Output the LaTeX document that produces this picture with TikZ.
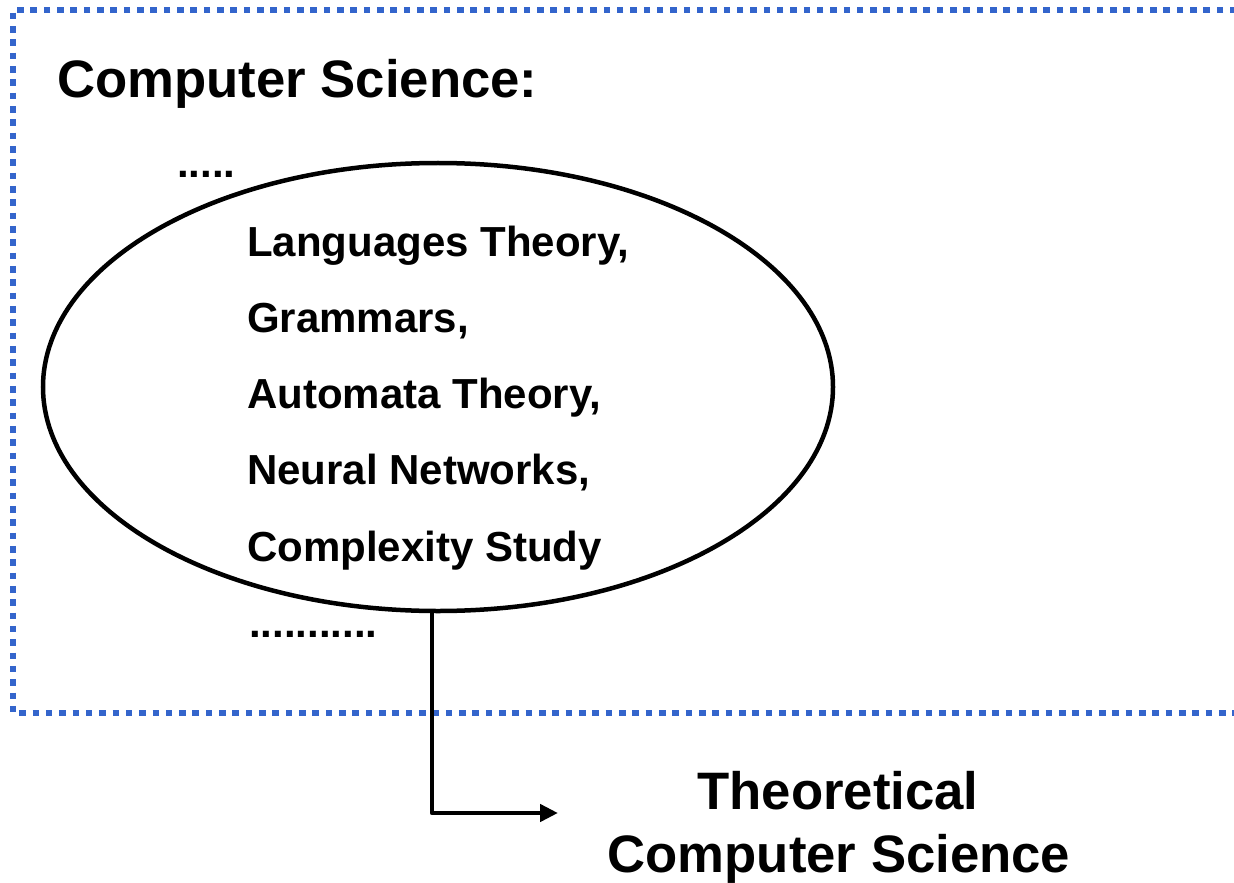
\documentclass[tikz,border=0pt]{standalone}
\usepackage{fontspec}
\setmainfont{Liberation Sans}
\usetikzlibrary{shapes.geometric,arrows.meta}
\definecolor{frameblue}{RGB}{52,101,204}
\tikzset{
  bigtext/.style={inner sep=0, font=\fontsize{52.7bp}{63bp}\selectfont\bfseries},
  topictext/.style={inner sep=0, anchor=base west, font=\fontsize{42bp}{50bp}\selectfont\bfseries},
  dottedframe/.style={draw=frameblue, line width=6.4bp, dash pattern=on 6.6bp off 6.73bp},
  fieldellipse/.style={draw=black, line width=4.5bp, ellipse, inner sep=0,
    minimum width=790bp, minimum height=448bp},
  arrowline/.style={draw=black, line width=4.5bp, line join=round,
    -{Triangle[length=18bp, width=17bp]}},
}
\begin{document}
\begin{tikzpicture}[x=1bp, y=-1bp]
\useasboundingbox (0,0) rectangle (1234,883);

% dotted frame, open past the right edge
\draw[dottedframe] (1250,10) -- (13,10) -- (13,713) -- (1250,713);

\node[bigtext, anchor=base west] (title) at (57,97) {Computer Science:};
\node[topictext] (dotsA) at (177,177) {.....};

\node[fieldellipse] (field) at (438,387) {};

\node[topictext] (t1) at (247,256) {Languages Theory,};
\node[topictext] (t2) at (247,332) {Grammars,};
\node[topictext] (t3) at (247,408) {Automata Theory,};
\node[topictext] (t4) at (247,484) {Neural Networks,};
\node[topictext] (t5) at (247,561) {Complexity Study};

\node[topictext] (dotsB) at (249,637) {...........};

\node[bigtext, anchor=base] (th1) at (838,809) {Theoretical};
\node[bigtext, anchor=base] (th2) at (839,872) {Computer Science};

\coordinate (tip) at (558,813);
\draw[arrowline] ([xshift=-6bp]field.south) |- (tip);
\end{tikzpicture}
\end{document}
